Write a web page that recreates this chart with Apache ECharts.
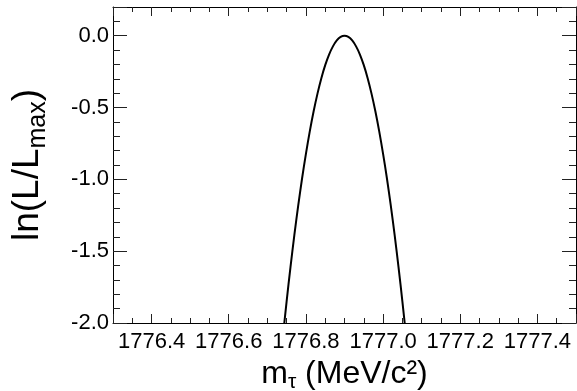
<!DOCTYPE html>
<html>
<head>
<meta charset="utf-8">
<script src="https://cdn.jsdelivr.net/npm/echarts@6/dist/echarts.min.js"></script>
<style>
  html, body { margin: 0; padding: 0; background: #fff; }
  #chart { width: 577px; height: 391px; }
</style>
</head>
<body>
<div id="chart"></div>
<script>
// m_tau scan points (MeV/c^2) and ln(L/Lmax)
const massValues = [
  1776.74, 1776.75, 1776.76, 1776.77, 1776.78, 1776.79, 1776.80, 1776.81,
  1776.82, 1776.83, 1776.84, 1776.85, 1776.86, 1776.87, 1776.88, 1776.89,
  1776.90, 1776.91, 1776.92, 1776.93, 1776.94, 1776.95, 1776.96, 1776.97,
  1776.98, 1776.99, 1777.00, 1777.01, 1777.02, 1777.03, 1777.04, 1777.05,
  1777.06
];
const lnLikelihood = [
  -2.104, -1.849, -1.611, -1.389, -1.183, -0.994, -0.822, -0.666,
  -0.526, -0.403, -0.296, -0.205, -0.131, -0.074, -0.033, -0.008,
  0.000, -0.008, -0.033, -0.074, -0.131, -0.205, -0.296, -0.403,
  -0.526, -0.666, -0.822, -0.994, -1.183, -1.389, -1.611, -1.849,
  -2.104
];
const xRange = [1776.3, 1777.5];
const yRange = [-2.0, 0.2];

const font = "'Liberation Sans', Arial, Helvetica, sans-serif";

function xAxisCfg(pos, withLabels) {
  return {
    type: 'value',
    position: pos,
    min: xRange[0],
    max: xRange[1],
    splitNumber: 6,
    axisLine: { show: true, onZero: false, lineStyle: { color: '#000', width: 1 } },
    axisTick: { show: true, inside: true, length: 9, lineStyle: { color: '#222' } },
    minorTick: { show: true, splitNumber: 4, length: 5, lineStyle: { color: '#222' } },
    splitLine: { show: false },
    axisLabel: {
      show: withLabels,
      margin: 8,
      showMinLabel: false,
      showMaxLabel: false,
      color: '#000',
      fontFamily: font,
      fontSize: 22,
      formatter: v => v.toFixed(1)
    }
  };
}

function yAxisCfg(pos, withLabels) {
  return {
    type: 'value',
    position: pos,
    min: yRange[0],
    max: yRange[1],
    interval: 0.5,
    axisLine: { show: true, onZero: false, lineStyle: { color: '#000', width: 1 } },
    axisTick: { show: true, inside: true, length: 14, lineStyle: { color: '#222' } },
    minorTick: { show: true, splitNumber: 5, length: 7, lineStyle: { color: '#222' } },
    splitLine: { show: false },
    axisLabel: {
      show: withLabels,
      margin: 4,
      showMaxLabel: false,
      color: '#000',
      fontFamily: font,
      fontSize: 22,
      formatter: v => v.toFixed(1)
    }
  };
}

const xMain = xAxisCfg('bottom', true);
xMain.name = '{a|m}{s|τ}{a| (MeV/c²)}';
xMain.nameLocation = 'middle';
xMain.nameGap = 31;
xMain.nameTextStyle = {
  rich: {
    a: { fontSize: 32, fontFamily: font, color: '#000', lineHeight: 32 },
    s: { fontSize: 21, fontFamily: font, color: '#000', padding: [16, 0, 0, 0] }
  }
};

const yMain = yAxisCfg('left', true);
yMain.name = '{a|ln(L/L}{s|max}{a|)}';
yMain.nameLocation = 'middle';
yMain.nameRotate = 90;
yMain.nameGap = 62;
yMain.nameTextStyle = {
  rich: {
    a: { fontSize: 37, fontFamily: font, color: '#000', lineHeight: 38 },
    s: { fontSize: 25, fontFamily: font, color: '#000', padding: [22, 0, 0, 0] }
  }
};

const chart = echarts.init(document.getElementById('chart'));
chart.setOption({
  animation: false,
  backgroundColor: '#fff',
  grid: { left: 113, right: 1, top: 7, bottom: 68, outerBoundsMode: 'none' },
  xAxis: [xMain, xAxisCfg('top', false)],
  yAxis: [yMain, yAxisCfg('right', false)],
  series: [{
    type: 'line',
    xAxisIndex: 0,
    yAxisIndex: 0,
    data: massValues.map((m, i) => [m, lnLikelihood[i]]),
    showSymbol: false,
    smooth: 0.3,
    clip: true,
    lineStyle: { color: '#000', width: 2 }
  }]
});
</script>
</body>
</html>
